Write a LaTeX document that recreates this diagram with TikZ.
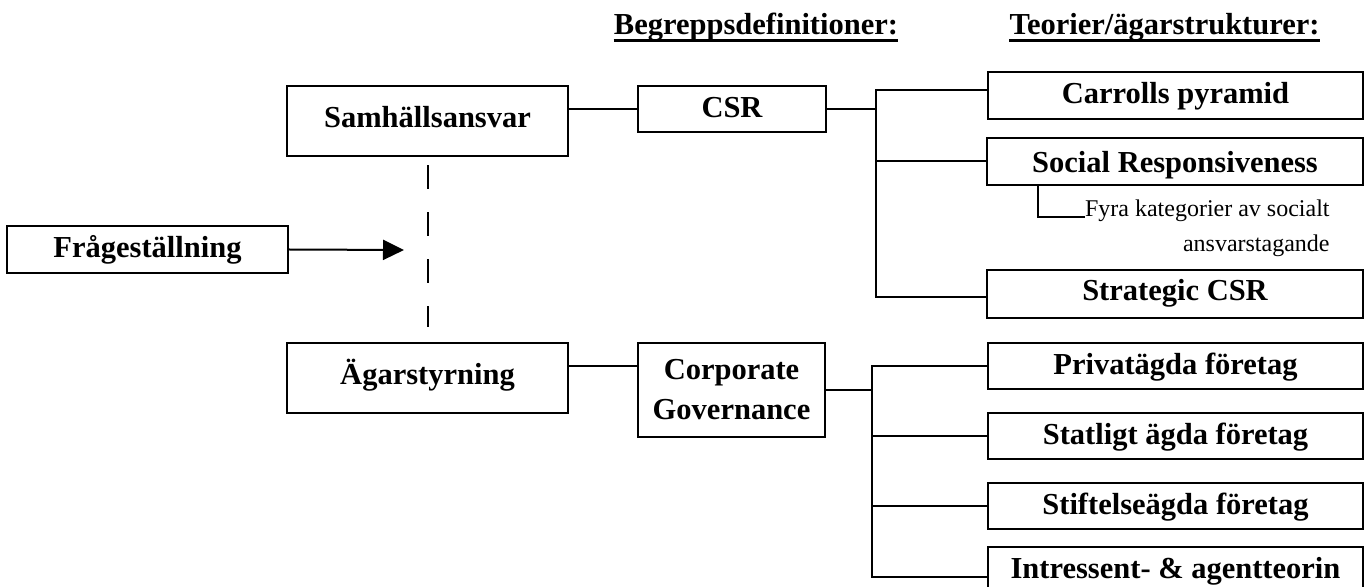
\documentclass[tikz,border=0pt]{standalone}
\usepackage{fontspec}
\setmainfont{Liberation Serif}
\usetikzlibrary{arrows.meta}
\begin{document}
\begin{tikzpicture}[x=0.5pt,y=-0.5pt,
  lbl/.style={font=\bfseries\fontsize{15.25}{20}\selectfont},
  boxbase/.style={lbl,draw,line width=1.1pt,inner sep=0pt},
  box/.style={boxbase,text height=11.5pt,text depth=3pt},
  boxhi/.style={boxbase,text height=10.7pt,text depth=4.4pt},
  boxlo/.style={boxbase,text height=12.5pt,text depth=1pt},
  conn/.style={line width=1pt},
  hdr/.style={lbl,anchor=base,inner sep=0pt},
  small/.style={font=\fontsize{12}{14}\selectfont,anchor=base east,inner sep=0pt}]
\useasboundingbox (0,0) rectangle (1365,587);

% headers
\node[hdr] (h1) at (756,35) {Begreppsdefinitioner:};
\node[hdr] (h2) at (1164.5,35) {Teorier/ägarstrukturer:};
\draw[line width=1.5pt] ([yshift=-2.6pt]h1.base west) -- ([yshift=-2.6pt]h1.base east);
\draw[line width=1.5pt] ([yshift=-2.6pt]h2.base west) -- ([yshift=-2.6pt]h2.base east);

% boxes
\node[boxhi,minimum width=140.5pt,minimum height=35pt] (samh) at (427.5,121) {Samhällsansvar};
\node[box,minimum width=94pt,minimum height=23pt] (csr) at (732,109) {CSR};
\node[box,minimum width=187.5pt,minimum height=23.5pt] (carroll) at (1175.5,95.5) {Carrolls pyramid};
\node[boxlo,minimum width=188pt,minimum height=23.5pt] (social) at (1175,161.5) {Social Responsiveness};
\node[boxhi,minimum width=188pt,minimum height=24pt] (strategic) at (1175,294) {Strategic CSR};
\node[box,minimum width=140.5pt,minimum height=23.5pt] (fraga) at (147.5,249.5) {Frågeställning};
\node[boxhi,minimum width=140.5pt,minimum height=35pt] (agar) at (427.5,378) {Ägarstyrning};
\node[boxbase,align=center,minimum width=93.5pt,minimum height=47pt] (cg) at (731.5,390) {Corporate\\Governance};
\node[box,minimum width=187.5pt,minimum height=23pt] (priv) at (1175.5,366) {Privatägda företag};
\node[box,minimum width=187.5pt,minimum height=23pt] (stat) at (1175.5,436) {Statligt ägda företag};
\node[box,minimum width=187.5pt,minimum height=23pt] (stif) at (1175.5,506) {Stiftelseägda företag};
\node[box,minimum width=187.5pt,minimum height=23pt] (intr) at (1175.5,570) {Intressent- \& agentteorin};

% sub text
\node[small] (fyra1) at (1330,217) {Fyra kategorier av socialt};
\node[small] (fyra2) at (1330,252) {ansvarstagande};

% coordinates
\coordinate (b1) at (876,90);
\coordinate (b3) at (876,297);
\coordinate (sc) at (1038,217);
\coordinate (tip) at (404,250);
\coordinate (c1) at (872,366);
\coordinate (c4) at (872,577);

% connectors upper
\draw[conn] ([yshift=6pt]samh.east) -- ([yshift=6pt]samh.east -| csr.west);
\draw[conn] (csr.east) -- (csr.east -| b1);
\draw[conn] (carroll.west |- b1) -- (b1) -- (b3) -- (b3 -| strategic.west);
\draw[conn] (b1 |- social.west) -- (social.west);
\draw[conn] (sc |- social.south) -- (sc) -- (fyra1.base west);

% arrow and dashed link
\draw[conn,-{Triangle[length=10.5pt,width=10pt]}] (fraga.east) -- (tip);
\draw[conn,dash pattern=on 12pt off 11.5pt] ([yshift=-4pt]samh.south) -- ([yshift=7.5pt]agar.north);

% connectors lower
\draw[conn] ([yshift=6pt]agar.east) -- ([yshift=6pt]agar.east -| cg.west);
\draw[conn] (cg.east) -- (cg.east -| c1);
\draw[conn] (priv.west |- c1) -- (c1) -- (c4) -- (c4 -| intr.west);
\draw[conn] (c1 |- stat.west) -- (stat.west);
\draw[conn] (c1 |- stif.west) -- (stif.west);
\end{tikzpicture}
\end{document}
